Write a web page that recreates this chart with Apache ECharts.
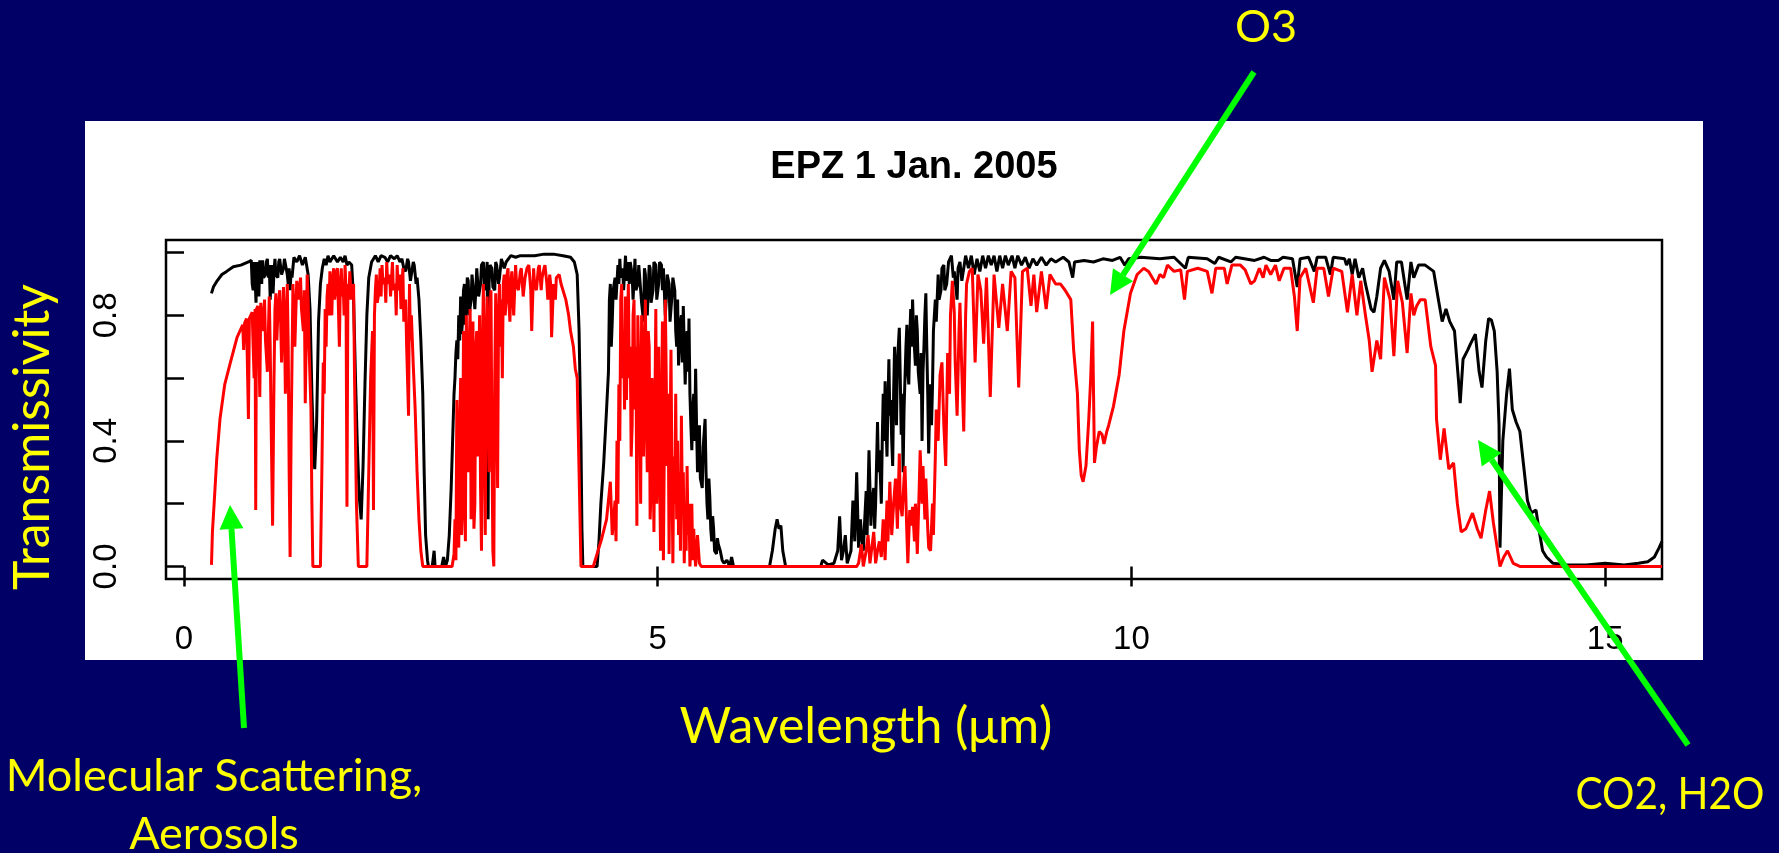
<!DOCTYPE html>
<html>
<head>
<meta charset="utf-8">
<title>EPZ 1 Jan. 2005</title>
<script src="https://cdn.jsdelivr.net/npm/echarts@6/dist/echarts.min.js"></script>
<style>
  html, body { margin: 0; padding: 0; background: #000066; }
  #chart { width: 1779px; height: 853px; }
</style>
</head>
<body>
<div id="chart"></div>
<script>
// transmissivity, [wavelength (um), T]
var blackCurve = [
  [0.29,0.87],[0.31,0.89],[0.35,0.91],[0.40,0.93],[0.45,0.94],[0.52,0.955],[0.60,0.96],[0.68,0.97],
  [0.71,0.975],[0.72,0.90],[0.73,0.88],[0.74,0.97],[0.75,0.92],[0.76,0.84],[0.77,0.97],[0.78,0.90],
  [0.79,0.86],[0.80,0.975],[0.81,0.93],[0.82,0.90],[0.83,0.975],[0.84,0.92],[0.86,0.93],[0.87,0.97],
  [0.88,0.98],[0.89,0.92],[0.90,0.96],[0.91,0.85],[0.92,0.93],[0.93,0.96],[0.94,0.87],[0.95,0.94],
  [0.96,0.98],[0.97,0.93],[0.99,0.92],[1.00,0.97],[1.01,0.98],[1.03,0.93],[1.05,0.95],[1.06,0.98],
  [1.08,0.98],[1.09,0.93],[1.10,0.90],[1.11,0.95],[1.12,0.88],[1.13,0.94],[1.14,0.92],[1.16,0.985],
  [1.19,0.97],[1.22,0.99],[1.25,0.96],[1.28,0.985],[1.31,0.93],[1.33,0.82],[1.35,0.55],[1.37,0.35],
  [1.38,0.31],[1.40,0.46],[1.42,0.78],[1.44,0.90],[1.46,0.95],[1.48,0.98],[1.50,0.96],[1.52,0.99],
  [1.54,0.97],[1.56,0.97],[1.58,0.99],[1.60,0.99],[1.62,0.97],[1.65,0.985],[1.68,0.97],[1.70,0.99],
  [1.72,0.96],[1.74,0.97],[1.77,0.96],[1.79,0.85],[1.81,0.60],[1.83,0.38],[1.85,0.22],[1.87,0.15],
  [1.89,0.32],[1.91,0.58],[1.93,0.80],[1.95,0.92],[1.98,0.97],[2.02,0.99],[2.05,0.97],[2.08,0.99],
  [2.12,0.985],[2.15,0.97],[2.18,0.99],[2.22,0.98],[2.25,0.99],[2.28,0.97],[2.30,0.98],[2.32,0.95],
  [2.34,0.94],[2.36,0.98],[2.37,0.97],[2.39,0.91],[2.40,0.93],[2.42,0.97],[2.43,0.96],[2.45,0.90],
  [2.46,0.92],[2.48,0.85],[2.50,0.72],[2.52,0.55],[2.535,0.30],[2.55,0.10],[2.57,0.02],[2.58,0.0],
  [2.62,0.0],[2.64,0.05],[2.65,0.0],[2.72,0.0],[2.74,0.03],[2.76,0.0],[2.78,0.02],[2.80,0.10],
  [2.82,0.25],[2.84,0.45],[2.85,0.55],[2.86,0.60],[2.87,0.68],[2.88,0.72],[2.89,0.66],[2.90,0.80],
  [2.91,0.72],[2.92,0.86],[2.93,0.74],[2.94,0.78],[2.95,0.88],[2.96,0.90],[2.97,0.77],[2.98,0.82],
  [2.99,0.92],[3.00,0.91],[3.01,0.80],[3.03,0.85],[3.04,0.93],[3.06,0.93],[3.07,0.82],[3.08,0.88],
  [3.09,0.95],[3.10,0.95],[3.11,0.86],[3.13,0.90],[3.14,0.96],[3.16,0.97],[3.17,0.88],[3.19,0.93],
  [3.20,0.97],[3.21,0.15],[3.22,0.90],[3.23,0.96],[3.25,0.95],[3.26,0.89],[3.28,0.88],[3.29,0.97],
  [3.30,0.96],[3.32,0.90],[3.33,0.92],[3.35,0.98],[3.36,0.98],[3.38,0.95],[3.40,0.97],[3.45,0.99],
  [3.50,0.985],[3.55,0.99],[3.60,0.99],[3.70,0.99],[3.80,0.995],[3.90,0.995],[4.00,0.99],[4.08,0.985],
  [4.12,0.97],[4.15,0.93],[4.17,0.75],[4.19,0.40],[4.20,0.12],[4.21,0.0],[4.36,0.0],[4.38,0.08],
  [4.40,0.20],[4.43,0.33],[4.46,0.50],[4.48,0.62],[4.49,0.85],[4.50,0.90],[4.51,0.70],[4.52,0.78],
  [4.53,0.88],[4.55,0.92],[4.56,0.85],[4.58,0.96],[4.59,0.90],[4.60,0.98],[4.61,0.92],[4.63,0.95],
  [4.64,0.88],[4.66,0.99],[4.67,0.91],[4.69,0.97],[4.70,0.90],[4.71,0.97],[4.73,0.93],[4.74,0.85],
  [4.76,0.98],[4.77,0.88],[4.79,0.90],[4.80,0.96],[4.82,0.96],[4.83,0.84],[4.85,0.78],[4.86,0.95],
  [4.87,0.93],[4.88,0.82],[4.89,0.80],[4.91,0.96],[4.92,0.95],[4.93,0.84],[4.95,0.88],[4.96,0.97],
  [4.98,0.96],[4.99,0.85],[5.01,0.90],[5.02,0.97],[5.04,0.96],[5.05,0.88],[5.06,0.95],[5.08,0.80],
  [5.09,0.85],[5.10,0.93],[5.12,0.90],[5.13,0.78],[5.15,0.86],[5.16,0.92],[5.18,0.88],[5.19,0.75],
  [5.20,0.70],[5.21,0.85],[5.22,0.64],[5.24,0.78],[5.25,0.80],[5.26,0.65],[5.27,0.83],[5.28,0.70],
  [5.29,0.58],[5.30,0.70],[5.31,0.75],[5.32,0.62],[5.33,0.79],[5.34,0.55],[5.35,0.45],[5.36,0.37],
  [5.37,0.50],[5.38,0.55],[5.39,0.40],[5.40,0.63],[5.41,0.45],[5.42,0.30],[5.43,0.42],[5.44,0.45],
  [5.45,0.28],[5.47,0.25],[5.48,0.38],[5.50,0.47],[5.51,0.30],[5.52,0.20],[5.53,0.15],[5.54,0.28],
  [5.55,0.22],[5.56,0.12],[5.57,0.08],[5.58,0.16],[5.59,0.12],[5.60,0.05],[5.62,0.04],[5.63,0.09],
  [5.64,0.07],[5.66,0.05],[5.68,0.02],[5.70,0.01],[5.73,0.02],[5.76,0.0],[5.78,0.03],[5.80,0.0],
  [6.18,0.0],[6.21,0.05],[6.24,0.12],[6.26,0.15],[6.28,0.12],[6.30,0.13],[6.32,0.05],[6.35,0.0],
  [6.72,0.0],[6.74,0.02],[6.80,0.005],[6.86,0.01],[6.90,0.05],[6.92,0.16],[6.94,0.02],[6.96,0.05],
  [6.98,0.10],[7.00,0.01],[7.02,0.03],[7.04,0.05],[7.06,0.21],[7.08,0.08],[7.10,0.30],[7.12,0.06],
  [7.14,0.15],[7.15,0.10],[7.17,0.05],[7.18,0.12],[7.20,0.24],[7.21,0.10],[7.23,0.37],[7.25,0.13],
  [7.26,0.20],[7.28,0.25],[7.29,0.12],[7.30,0.20],[7.32,0.46],[7.33,0.30],[7.34,0.37],[7.36,0.20],
  [7.37,0.40],[7.38,0.55],[7.39,0.40],[7.40,0.59],[7.41,0.45],[7.42,0.35],[7.43,0.52],[7.44,0.66],
  [7.45,0.48],[7.46,0.53],[7.47,0.40],[7.48,0.32],[7.49,0.55],[7.50,0.70],[7.51,0.55],[7.52,0.45],
  [7.53,0.65],[7.55,0.76],[7.56,0.60],[7.57,0.42],[7.58,0.55],[7.59,0.30],[7.60,0.50],[7.61,0.60],
  [7.62,0.70],[7.63,0.77],[7.64,0.62],[7.65,0.58],[7.66,0.72],[7.67,0.82],[7.68,0.70],[7.69,0.85],
  [7.70,0.75],[7.72,0.64],[7.73,0.80],[7.74,0.75],[7.75,0.62],[7.77,0.55],[7.78,0.68],[7.79,0.40],
  [7.80,0.62],[7.81,0.70],[7.82,0.80],[7.83,0.87],[7.84,0.70],[7.85,0.55],[7.86,0.36],[7.87,0.50],
  [7.88,0.58],[7.89,0.45],[7.90,0.57],[7.91,0.75],[7.93,0.85],[7.94,0.78],[7.96,0.93],[7.97,0.85],
  [7.99,0.88],[8.00,0.95],[8.02,0.96],[8.03,0.88],[8.05,0.90],[8.07,0.97],[8.10,0.99],[8.12,0.92],
  [8.13,0.94],[8.15,0.88],[8.16,0.85],[8.17,0.95],[8.19,0.97],[8.21,0.91],[8.22,0.93],[8.25,0.99],
  [8.28,0.95],[8.31,0.99],[8.34,0.93],[8.37,0.98],[8.40,0.94],[8.43,0.99],[8.46,0.95],[8.49,0.99],
  [8.52,0.96],[8.55,0.99],[8.58,0.94],[8.61,0.99],[8.64,0.95],[8.67,0.99],[8.70,0.96],[8.74,0.99],
  [8.77,0.95],[8.80,0.99],[8.84,0.96],[8.88,0.985],[8.92,0.95],[8.96,0.98],[9.00,0.96],[9.05,0.985],
  [9.10,0.96],[9.15,0.98],[9.20,0.97],[9.28,0.985],[9.34,0.97],[9.38,0.92],[9.40,0.97],[9.50,0.975],
  [9.60,0.97],[9.70,0.98],[9.80,0.975],[9.88,0.985],[9.93,0.96],[9.97,0.98],[10.10,0.985],[10.30,0.98],
  [10.45,0.985],[10.57,0.95],[10.60,0.985],[10.80,0.98],[10.88,0.965],[10.92,0.985],[11.05,0.97],[11.10,0.985],
  [11.30,0.975],[11.40,0.985],[11.47,0.975],[11.55,0.975],[11.60,0.985],[11.70,0.98],[11.75,0.89],[11.78,0.98],
  [11.87,0.985],[11.93,0.94],[11.96,0.985],[12.05,0.985],[12.10,0.93],[12.13,0.985],[12.25,0.98],[12.27,0.96],
  [12.30,0.98],[12.33,0.93],[12.36,0.98],[12.40,0.92],[12.44,0.95],[12.47,0.90],[12.50,0.86],[12.53,0.82],
  [12.56,0.81],[12.59,0.86],[12.63,0.95],[12.67,0.975],[12.72,0.94],[12.77,0.85],[12.80,0.97],[12.85,0.97],
  [12.91,0.85],[12.95,0.97],[12.98,0.92],[13.03,0.96],[13.10,0.96],[13.19,0.94],[13.24,0.85],[13.28,0.78],
  [13.32,0.82],[13.36,0.78],[13.41,0.75],[13.45,0.60],[13.47,0.52],[13.50,0.66],[13.55,0.69],[13.58,0.71],
  [13.63,0.74],[13.67,0.62],[13.70,0.57],[13.74,0.72],[13.77,0.79],[13.80,0.785],[13.83,0.75],[13.86,0.62],
  [13.88,0.45],[13.89,0.06],[13.92,0.40],[13.96,0.55],[13.99,0.63],[14.02,0.50],[14.06,0.46],[14.10,0.43],
  [14.14,0.32],[14.18,0.21],[14.22,0.17],[14.27,0.18],[14.30,0.12],[14.34,0.05],[14.38,0.03],[14.45,0.01],
  [14.60,0.005],[14.80,0.005],[15.00,0.01],[15.20,0.005],[15.35,0.01],[15.45,0.015],[15.52,0.03],[15.57,0.06],
  [15.60,0.08]
];

var redCurve = [
  [0.29,0.005],[0.30,0.11],[0.32,0.21],[0.345,0.34],[0.38,0.47],[0.43,0.58],[0.49,0.65],[0.56,0.73],
  [0.62,0.77],[0.63,0.69],[0.64,0.775],[0.66,0.79],[0.68,0.47],[0.69,0.79],[0.72,0.81],[0.73,0.70],
  [0.74,0.60],[0.75,0.82],[0.757,0.18],[0.765,0.82],[0.78,0.83],[0.79,0.72],[0.80,0.54],[0.81,0.84],
  [0.82,0.78],[0.83,0.75],[0.85,0.85],[0.86,0.72],[0.88,0.62],[0.90,0.86],[0.91,0.70],[0.92,0.45],
  [0.935,0.13],[0.95,0.60],[0.96,0.82],[0.97,0.87],[0.98,0.72],[0.99,0.80],[1.01,0.88],[1.02,0.78],
  [1.03,0.65],[1.05,0.89],[1.06,0.80],[1.07,0.55],[1.09,0.90],[1.10,0.70],[1.11,0.30],[1.12,0.03],
  [1.13,0.40],[1.15,0.90],[1.16,0.80],[1.17,0.70],[1.19,0.91],[1.21,0.85],[1.23,0.92],[1.24,0.82],
  [1.26,0.75],[1.27,0.88],[1.28,0.52],[1.30,0.93],[1.31,0.85],[1.32,0.70],[1.34,0.50],[1.35,0.20],
  [1.36,0.0],[1.44,0.0],[1.455,0.30],[1.47,0.65],[1.48,0.55],[1.49,0.82],[1.50,0.70],[1.51,0.86],
  [1.52,0.90],[1.53,0.80],[1.54,0.94],[1.55,0.86],[1.56,0.80],[1.57,0.92],[1.58,0.95],[1.59,0.85],
  [1.60,0.88],[1.61,0.94],[1.62,0.95],[1.63,0.82],[1.64,0.70],[1.65,0.90],[1.66,0.95],[1.67,0.86],
  [1.68,0.90],[1.69,0.80],[1.70,0.96],[1.71,0.88],[1.72,0.19],[1.73,0.90],[1.74,0.85],[1.75,0.94],
  [1.76,0.88],[1.77,0.85],[1.79,0.90],[1.80,0.60],[1.82,0.20],[1.84,0.0],[1.93,0.0],[1.95,0.30],
  [1.97,0.60],[1.99,0.75],[2.00,0.18],[2.01,0.80],[2.02,0.88],[2.03,0.93],[2.04,0.84],[2.06,0.88],
  [2.07,0.95],[2.08,0.86],[2.09,0.96],[2.10,0.90],[2.12,0.92],[2.13,0.84],[2.14,0.97],[2.15,0.90],
  [2.17,0.93],[2.18,0.86],[2.20,0.97],[2.21,0.88],[2.23,0.90],[2.24,0.80],[2.25,0.96],[2.26,0.88],
  [2.28,0.93],[2.29,0.82],[2.31,0.95],[2.32,0.78],[2.34,0.85],[2.35,0.70],[2.37,0.48],[2.38,0.90],
  [2.39,0.72],[2.40,0.80],[2.42,0.64],[2.44,0.50],[2.46,0.30],[2.48,0.15],[2.50,0.05],[2.52,0.0],
  [2.83,0.0],[2.85,0.04],[2.86,0.15],[2.87,0.02],[2.88,0.53],[2.89,0.12],[2.90,0.06],[2.91,0.45],
  [2.92,0.60],[2.93,0.10],[2.94,0.20],[2.95,0.75],[2.96,0.30],[2.97,0.08],[2.98,0.80],[2.99,0.50],
  [3.00,0.30],[3.01,0.70],[3.02,0.82],[3.03,0.15],[3.04,0.60],[3.05,0.78],[3.06,0.12],[3.07,0.20],
  [3.08,0.70],[3.09,0.75],[3.10,0.35],[3.11,0.60],[3.12,0.80],[3.13,0.25],[3.14,0.05],[3.15,0.70],
  [3.16,0.90],[3.17,0.40],[3.18,0.10],[3.19,0.75],[3.20,0.86],[3.21,0.50],[3.22,0.30],[3.23,0.80],
  [3.24,0.88],[3.25,0.40],[3.26,0.05],[3.27,0.0],[3.28,0.60],[3.29,0.87],[3.30,0.60],[3.31,0.25],
  [3.32,0.80],[3.33,0.90],[3.34,0.70],[3.35,0.85],[3.36,0.60],[3.37,0.90],[3.38,0.93],[3.39,0.80],
  [3.40,0.85],[3.41,0.93],[3.42,0.95],[3.43,0.84],[3.44,0.78],[3.45,0.90],[3.46,0.94],[3.47,0.86],
  [3.48,0.80],[3.50,0.96],[3.51,0.90],[3.53,0.88],[3.55,0.94],[3.56,0.95],[3.58,0.86],[3.60,0.92],
  [3.62,0.95],[3.64,0.96],[3.66,0.88],[3.67,0.75],[3.69,0.95],[3.70,0.90],[3.72,0.88],[3.74,0.95],
  [3.75,0.96],[3.77,0.88],[3.78,0.92],[3.80,0.95],[3.81,0.96],[3.83,0.90],[3.84,0.85],[3.86,0.93],
  [3.87,0.90],[3.88,0.73],[3.90,0.90],[3.92,0.85],[3.93,0.92],[3.96,0.93],[3.98,0.90],[4.00,0.88],
  [4.03,0.85],[4.06,0.80],[4.08,0.75],[4.11,0.70],[4.13,0.63],[4.15,0.60],[4.17,0.30],[4.19,0.0],
  [4.32,0.0],[4.36,0.04],[4.41,0.09],[4.46,0.15],[4.50,0.27],[4.52,0.10],[4.55,0.21],[4.56,0.08],
  [4.57,0.40],[4.58,0.20],[4.59,0.58],[4.60,0.40],[4.61,0.85],[4.62,0.90],[4.63,0.60],[4.64,0.75],
  [4.65,0.50],[4.66,0.86],[4.67,0.53],[4.68,0.75],[4.69,0.90],[4.70,0.60],[4.71,0.70],[4.72,0.35],
  [4.73,0.45],[4.74,0.80],[4.75,0.85],[4.76,0.50],[4.77,0.70],[4.78,0.13],[4.79,0.80],[4.80,0.65],
  [4.81,0.55],[4.82,0.20],[4.83,0.80],[4.84,0.60],[4.85,0.35],[4.86,0.70],[4.87,0.85],[4.88,0.45],
  [4.89,0.30],[4.90,0.75],[4.91,0.70],[4.92,0.15],[4.93,0.25],[4.94,0.60],[4.95,0.40],[4.96,0.11],
  [4.97,0.50],[4.98,0.82],[4.99,0.20],[5.00,0.40],[5.01,0.70],[5.02,0.30],[5.03,0.05],[5.04,0.50],
  [5.05,0.78],[5.06,0.02],[5.07,0.40],[5.08,0.85],[5.09,0.60],[5.10,0.32],[5.11,0.55],[5.12,0.04],
  [5.13,0.40],[5.14,0.69],[5.15,0.30],[5.16,0.01],[5.17,0.35],[5.18,0.20],[5.19,0.55],[5.20,0.15],
  [5.21,0.40],[5.22,0.10],[5.23,0.30],[5.24,0.05],[5.25,0.48],[5.26,0.20],[5.27,0.30],[5.28,0.01],
  [5.29,0.20],[5.30,0.05],[5.31,0.32],[5.32,0.10],[5.33,0.20],[5.34,0.0],[5.35,0.08],[5.36,0.20],
  [5.37,0.02],[5.38,0.12],[5.39,0.05],[5.40,0.0],[5.42,0.10],[5.44,0.01],[5.46,0.0],[7.10,0.0],
  [7.12,0.01],[7.15,0.07],[7.17,0.0],[7.20,0.05],[7.22,0.10],[7.24,0.01],[7.26,0.06],[7.28,0.11],
  [7.30,0.01],[7.32,0.05],[7.34,0.08],[7.36,0.03],[7.38,0.15],[7.40,0.02],[7.42,0.21],[7.43,0.08],
  [7.45,0.27],[7.47,0.10],[7.49,0.20],[7.51,0.28],[7.53,0.12],[7.55,0.36],[7.56,0.20],[7.58,0.16],
  [7.60,0.28],[7.61,0.32],[7.63,0.10],[7.64,0.01],[7.66,0.18],[7.67,0.13],[7.69,0.19],[7.71,0.08],
  [7.72,0.20],[7.74,0.04],[7.76,0.25],[7.77,0.37],[7.79,0.20],[7.80,0.32],[7.82,0.15],[7.83,0.28],
  [7.85,0.12],[7.86,0.06],[7.88,0.05],[7.90,0.20],[7.91,0.10],[7.93,0.35],[7.94,0.50],[7.96,0.40],
  [7.98,0.61],[8.00,0.65],[8.02,0.45],[8.04,0.32],[8.06,0.68],[8.08,0.55],[8.09,0.80],[8.11,0.91],
  [8.13,0.81],[8.14,0.65],[8.16,0.48],[8.18,0.75],[8.19,0.84],[8.21,0.62],[8.23,0.43],[8.25,0.80],
  [8.26,0.90],[8.29,0.94],[8.32,0.95],[8.35,0.65],[8.38,0.93],[8.41,0.88],[8.44,0.71],[8.47,0.92],
  [8.51,0.54],[8.55,0.93],[8.60,0.76],[8.64,0.90],[8.69,0.75],[8.73,0.94],[8.77,0.92],[8.81,0.57],
  [8.85,0.94],[8.90,0.95],[8.94,0.83],[8.97,0.93],[9.00,0.81],[9.05,0.94],[9.10,0.82],[9.14,0.93],
  [9.20,0.90],[9.25,0.90],[9.30,0.88],[9.36,0.85],[9.39,0.69],[9.43,0.55],[9.45,0.37],[9.47,0.29],
  [9.49,0.27],[9.52,0.32],[9.55,0.47],[9.57,0.60],[9.59,0.78],[9.60,0.55],[9.61,0.33],[9.63,0.38],
  [9.66,0.43],[9.69,0.42],[9.71,0.39],[9.74,0.43],[9.76,0.45],[9.81,0.51],[9.87,0.61],[9.92,0.75],
  [9.99,0.87],[10.06,0.93],[10.13,0.95],[10.18,0.94],[10.22,0.92],[10.26,0.90],[10.30,0.93],[10.34,0.92],
  [10.38,0.96],[10.45,0.94],[10.52,0.945],[10.56,0.85],[10.59,0.94],[10.70,0.95],[10.80,0.94],[10.85,0.87],
  [10.89,0.95],[10.98,0.95],[11.01,0.90],[11.06,0.96],[11.15,0.96],[11.20,0.945],[11.26,0.90],[11.30,0.91],
  [11.35,0.95],[11.39,0.92],[11.42,0.96],[11.47,0.93],[11.52,0.96],[11.56,0.91],[11.61,0.95],[11.68,0.95],
  [11.72,0.86],[11.75,0.75],[11.78,0.92],[11.84,0.95],[11.92,0.84],[11.96,0.95],[12.03,0.95],[12.08,0.86],
  [12.13,0.95],[12.22,0.94],[12.28,0.81],[12.33,0.93],[12.38,0.80],[12.42,0.91],[12.47,0.80],[12.51,0.72],
  [12.54,0.62],[12.59,0.72],[12.63,0.66],[12.67,0.92],[12.73,0.85],[12.77,0.67],[12.81,0.91],[12.86,0.84],
  [12.91,0.68],[12.95,0.87],[12.98,0.80],[13.01,0.83],[13.05,0.85],[13.10,0.85],[13.16,0.70],[13.21,0.64],
  [13.22,0.47],[13.26,0.34],[13.30,0.44],[13.35,0.31],[13.40,0.33],[13.44,0.20],[13.48,0.11],[13.53,0.12],
  [13.60,0.17],[13.65,0.12],[13.69,0.09],[13.74,0.18],[13.78,0.24],[13.82,0.14],[13.86,0.06],[13.89,0.0],
  [13.93,0.03],[13.97,0.05],[14.03,0.01],[14.10,0.0],[15.60,0.0]
];

// ticks and labels as R drew them
var xTicks = [0, 5, 10, 15];
var yTicks = [0, 0.2, 0.4, 0.6, 0.8, 1.0];
var yLabels = [0, 0.4, 0.8];

var chartTitle = 'EPZ 1 Jan. 2005';
var xName = 'Wavelength (\u03bcm)';
var yName = 'Transmissivity';

// slide annotations: text, arrow tail and arrow tip (pixels)
var notes = [
  { text: 'Molecular Scattering,\nAerosols', x: 214, y: 805, sx: 1, tail: [244, 728], tip: [230, 505] },
  { text: 'O3', x: 1266, y: 27, sx: 1, tail: [1254, 72], tip: [1110, 295] },
  { text: 'CO2, H2O', x: 1670, y: 794, sx: 0.9, tail: [1688, 745], tip: [1478, 440] }
];

var yellow = '#ffff00';
var green = '#00ff00';
var slideFont = 'Lato, "Open Sans", sans-serif';
var plotFont = '"Liberation Sans", Arial, sans-serif';

function arrowParts(tail, tip) {
  var dx = tip[0] - tail[0], dy = tip[1] - tail[1];
  var len = Math.sqrt(dx * dx + dy * dy);
  var ux = dx / len, uy = dy / len;
  var headLen = 24, headW = 12;
  var bx = tip[0] - ux * headLen, by = tip[1] - uy * headLen;
  return [
    { type: 'line', z: 100, shape: { x1: tail[0], y1: tail[1], x2: bx, y2: by },
      style: { stroke: green, lineWidth: 6 } },
    { type: 'polygon', z: 100,
      shape: { points: [[tip[0], tip[1]], [bx - uy * headW, by + ux * headW], [bx + uy * headW, by - ux * headW]] },
      style: { fill: green } }
  ];
}

var graphics = [
  // white plot panel pasted on the slide
  { type: 'rect', z: -10, shape: { x: 85, y: 121, width: 1618, height: 539 }, style: { fill: '#ffffff' } },
  { type: 'text', z: 100, x: 866, y: 727,
    style: { text: xName, fill: yellow, fontSize: 50, fontFamily: slideFont, align: 'center', verticalAlign: 'middle' } },
  { type: 'text', z: 100, x: 33, y: 437, rotation: Math.PI / 2,
    style: { text: yName, fill: yellow, fontSize: 50, fontFamily: slideFont, align: 'center', verticalAlign: 'middle' } }
];
notes.forEach(function (n) {
  graphics.push({ type: 'text', z: 100, x: n.x, y: n.y, scaleX: n.sx,
    style: { text: n.text, fill: yellow, fontSize: 45, lineHeight: 58, fontFamily: slideFont,
      align: 'center', verticalAlign: 'middle' } });
  graphics = graphics.concat(arrowParts(n.tail, n.tip));
});

var option = {
  backgroundColor: '#000066',
  animation: false,
  title: {
    text: chartTitle,
    left: 914,
    top: 149,
    textAlign: 'center',
    padding: 0,
    textStyle: { fontSize: 38, fontWeight: 'bold', color: '#000', fontFamily: plotFont }
  },
  grid: {
    left: 166, right: 117, top: 240, bottom: 274,
    show: true, borderColor: '#000', borderWidth: 2.5, backgroundColor: 'transparent'
  },
  xAxis: {
    type: 'value',
    min: -0.19, max: 15.6,
    axisLine: { show: false },
    splitLine: { show: false },
    axisTick: { show: true, customValues: xTicks, length: 20, lineStyle: { color: '#000', width: 2.5 } },
    axisLabel: { customValues: xTicks, margin: 44, color: '#000', fontSize: 33, fontFamily: plotFont }
  },
  yAxis: {
    type: 'value',
    min: -0.04, max: 1.04,
    axisLine: { show: false },
    splitLine: { show: false },
    axisTick: { show: true, customValues: yTicks, length: 19, lineStyle: { color: '#000', width: 2.5 } },
    axisLabel: { customValues: yLabels, rotate: 90, margin: 43, color: '#000', fontSize: 33, fontFamily: plotFont,
      formatter: function (v) { return v.toFixed(1); } }
  },
  graphic: graphics,
  series: [
    { name: 'clear', type: 'line', data: blackCurve, showSymbol: false,
      lineStyle: { color: '#000', width: 3 }, z: 3 },
    { name: 'EPZ', type: 'line', data: redCurve, showSymbol: false,
      lineStyle: { color: '#ff0000', width: 3 }, z: 4 }
  ]
};

var chart = echarts.init(document.getElementById('chart'));
chart.setOption(option);
</script>
</body>
</html>
